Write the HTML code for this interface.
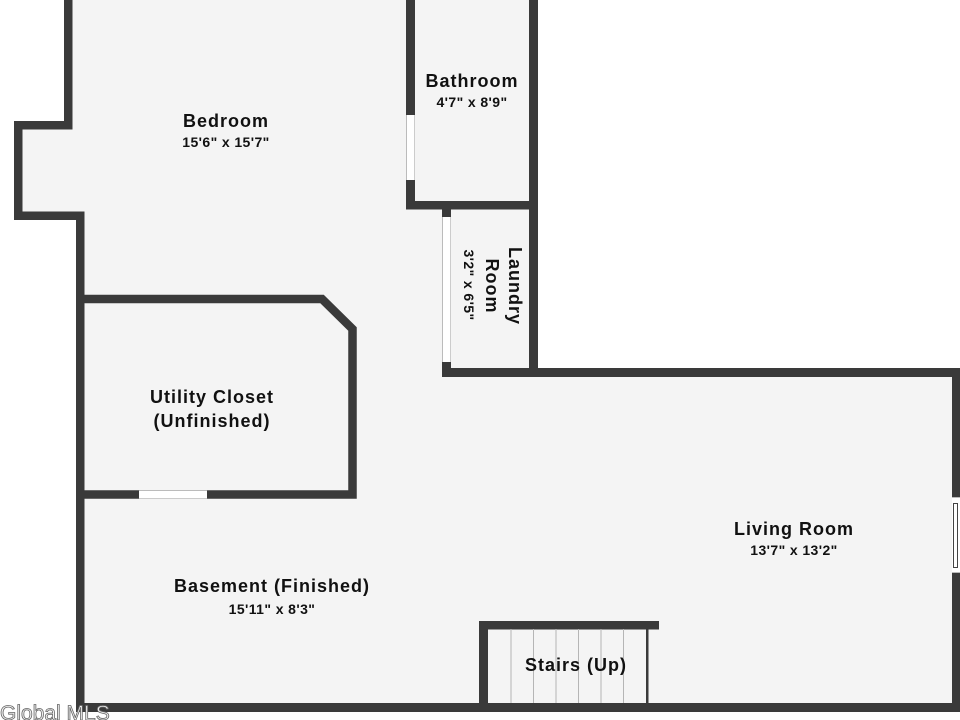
<!DOCTYPE html>
<html>
<head>
<meta charset="utf-8">
<style>
  html, body { margin: 0; padding: 0; background: #ffffff; }
  svg { display: block; }
  .t { font-family: "Liberation Sans", sans-serif; font-weight: bold; fill: #111; }
  .title { font-size: 18px; letter-spacing: 1px; }
  .dim { font-size: 14px; letter-spacing: 0.4px; }
</style>
</head>
<body>
<svg width="960" height="720" viewBox="0 0 960 720" xmlns="http://www.w3.org/2000/svg">
  <rect x="0" y="0" width="960" height="720" fill="#ffffff"/>
  <!-- interior fill -->
  <polygon points="64,0 538,0 538,368 960,368 960,712 76,712 76,220 14,220 14,121 64,121" fill="#f4f4f4"/>

  <g fill="#3a3a3a">
    <!-- bedroom left upper & bump -->
    <rect x="64" y="0" width="8.5" height="129"/>
    <rect x="14" y="121" width="58.5" height="8.5"/>
    <rect x="14" y="121" width="8.5" height="99"/>
    <rect x="14" y="211.5" width="70" height="8.5"/>
    <!-- main left wall -->
    <rect x="76" y="211.5" width="8.5" height="500.5"/>
    <!-- bathroom walls -->
    <rect x="406" y="0" width="9" height="209"/>
    <rect x="529" y="0" width="9" height="377"/>
    <rect x="406" y="201" width="132" height="8.5"/>
    <!-- laundry left -->
    <rect x="442" y="201" width="9" height="176"/>
    <!-- top of living -->
    <rect x="442" y="368" width="518" height="9"/>
    <!-- right wall -->
    <rect x="952" y="368" width="8" height="344"/>
    <!-- bottom wall -->
    <rect x="76" y="703" width="884" height="9"/>
    <!-- stairs -->
    <rect x="479" y="621" width="180" height="8.5"/>
    <rect x="479" y="621" width="9" height="91"/>
    <rect x="646" y="629" width="2.5" height="74"/>
  </g>

  <!-- utility closet walls -->
  <path d="M76 299 H322 L352.5 329 V494.5 H76" fill="none" stroke="#3a3a3a" stroke-width="8.5" stroke-linejoin="miter"/>

  <!-- utility door opening -->
  <rect x="139" y="490.5" width="68" height="8" fill="#ffffff"/>
  <line x1="139" y1="490.5" x2="207" y2="490.5" stroke="#bbbbbb" stroke-width="1"/>

  <!-- bathroom window -->
  <rect x="406" y="115" width="9" height="65" fill="#ffffff"/>
  <line x1="406.5" y1="115" x2="406.5" y2="180" stroke="#bbbbbb" stroke-width="1"/>
  <line x1="414.5" y1="115" x2="414.5" y2="180" stroke="#cccccc" stroke-width="1"/>

  <!-- laundry window -->
  <rect x="442" y="217" width="9" height="145" fill="#ffffff"/>
  <line x1="442.5" y1="217" x2="442.5" y2="362" stroke="#bbbbbb" stroke-width="1"/>
  <line x1="450.5" y1="217" x2="450.5" y2="362" stroke="#cccccc" stroke-width="1"/>

  <!-- right wall window -->
  <rect x="952" y="497" width="8" height="76" fill="#ffffff"/>
  <rect x="953.5" y="503.5" width="4" height="64" fill="none" stroke="#444" stroke-width="1"/>
  <line x1="952" y1="497.5" x2="960" y2="497.5" stroke="#bbbbbb" stroke-width="1"/>
  <line x1="952" y1="572.5" x2="960" y2="572.5" stroke="#bbbbbb" stroke-width="1"/>

  <!-- stair treads -->
  <g stroke="#b5b5b5" stroke-width="1">
    <line x1="511" y1="629" x2="511" y2="703"/>
    <line x1="533.5" y1="629" x2="533.5" y2="703"/>
    <line x1="556" y1="629" x2="556" y2="703"/>
    <line x1="578.5" y1="629" x2="578.5" y2="703"/>
    <line x1="601" y1="629" x2="601" y2="703"/>
    <line x1="623.5" y1="629" x2="623.5" y2="703"/>
  </g>

  <!-- labels -->
  <text class="t title" x="226" y="127" text-anchor="middle">Bedroom</text>
  <text class="t dim" x="226" y="147" text-anchor="middle">15'6" x 15'7"</text>

  <text class="t title" x="472" y="87" text-anchor="middle">Bathroom</text>
  <text class="t dim" x="472" y="107" text-anchor="middle">4'7" x 8'9"</text>

  <text class="t title" transform="translate(509,286) rotate(90)" text-anchor="middle">Laundry</text>
  <text class="t title" transform="translate(486,286) rotate(90)" text-anchor="middle">Room</text>
  <text class="t dim" transform="translate(464,285) rotate(90)" text-anchor="middle">3'2" x 6'5"</text>

  <text class="t title" x="212" y="403" text-anchor="middle">Utility Closet</text>
  <text class="t title" x="212" y="427" text-anchor="middle">(Unfinished)</text>

  <text class="t title" x="794" y="535" text-anchor="middle">Living Room</text>
  <text class="t dim" x="794" y="555" text-anchor="middle">13'7" x 13'2"</text>

  <text class="t title" x="272" y="592" text-anchor="middle">Basement (Finished)</text>
  <text class="t dim" x="272" y="614" text-anchor="middle">15'11" x 8'3"</text>

  <text class="t title" x="576" y="671" text-anchor="middle">Stairs (Up)</text>

  <!-- watermark -->
  <text x="0" y="720" font-family="Liberation Sans, sans-serif" font-size="21" fill="#f2f2f2" stroke="#666666" stroke-width="0.8">Global MLS</text>
</svg>
</body>
</html>
